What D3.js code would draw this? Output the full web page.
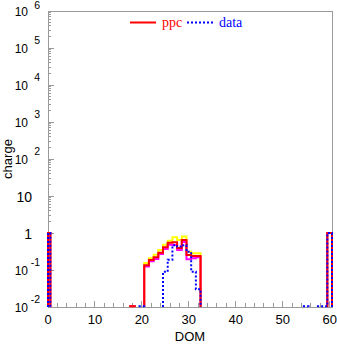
<!DOCTYPE html>
<html><head><meta charset="utf-8">
<script src="https://cdn.jsdelivr.net/npm/d3@7"></script>
<style>body{margin:0;background:#fff;} svg{display:block;}</style>
</head><body>
<script>
// DOM bins carrying any charge
const doms      = [0, 18, 20, 21, 22, 23, 24, 25, 26, 27, 28, 29, 30, 31, 32, 55, 58, 59, 60];
// ppc simulation (central), upper and lower band
const ppc       = [1, 0.0105, 0, 0.134, 0.186, 0.220, 0.294, 0.411, 0.547, 0.561, 0.393, 0.647, 0.254, 0.239, 0.239, 0, 0, 0, 1];
const ppcUpper  = [1, 0.0105, 0, 0.155, 0.207, 0.259, 0.347, 0.483, 0.619, 0.765, 0.647, 0.804, 0.312, 0.283, 0.283, 0, 0, 0, 1];
const ppcLower  = [1, 0.0105, 0, 0.124, 0.172, 0.198, 0.271, 0.370, 0.483, 0.474, 0.347, 0.571, 0.195, 0.207, 0.220, 0, 0, 0, 1];
// measured data
const dataQ     = [1, 0, 0.0105, 0, 0, 0, 0, 0.089, 0.19, 0.47, 0.43, 0.47, 0.31, 0.09, 0.030, 0.0105, 0.0105, 0.0105, 1];

const xTicks = [0, 10, 20, 30, 40, 50, 60];
const yTicks = [
  {v: 1e6, base: "10", exp: "6"},
  {v: 1e5, base: "10", exp: "5"},
  {v: 1e4, base: "10", exp: "4"},
  {v: 1e3, base: "10", exp: "3"},
  {v: 1e2, base: "10", exp: "2"},
  {v: 10,  base: "10", exp: ""},
  {v: 1,   base: "1",  exp: ""},
  {v: 1e-1, base: "10", exp: "-1"},
  {v: 1e-2, base: "10", exp: "-2"}
];

const W = 337, H = 344;
const L = 48, R = 332, T = 11, B = 307;
const axisColor = "#9a9a9a";

const svg = d3.select("body").append("svg").attr("width", W).attr("height", H);

const x = d3.scaleLinear().domain([0, 60.5]).range([L, R]).clamp(true);
const y = d3.scaleLog().domain([1e-2, 1e6]).range([B, T]).clamp(true);

function histPath(vals) {
  let d = "";
  let i = 0;
  while (i < doms.length) {
    if (!(vals[i] > 0)) { i++; continue; }
    let j = i;
    d += `M${x(doms[i] - 0.5)},${y(1e-2)}`;
    while (j < doms.length && vals[j] > 0 && (j === i || doms[j] === doms[j - 1] + 1)) {
      d += `L${x(doms[j] - 0.5)},${y(vals[j])}L${x(doms[j] + 0.5)},${y(vals[j])}`;
      j++;
    }
    d += `L${x(doms[j - 1] + 0.5)},${y(1e-2)}`;
    i = j;
  }
  return d;
}

svg.append("rect").attr("x", L).attr("y", T).attr("width", R - L).attr("height", B - T)
  .attr("fill", "none").attr("stroke", axisColor).attr("stroke-width", 1)
  .attr("shape-rendering", "crispEdges");

const gy = svg.append("g").attr("stroke", axisColor).attr("shape-rendering", "crispEdges");
for (let e = -2; e < 6; e++) {
  for (let k = 2; k <= 9; k++) {
    const v = k * Math.pow(10, e);
    gy.append("line").attr("x1", L).attr("x2", L + 3).attr("y1", y(v)).attr("y2", y(v));
  }
}
yTicks.forEach(t => {
  gy.append("line").attr("x1", L).attr("x2", L + 6).attr("y1", y(t.v)).attr("y2", y(t.v));
});

const gx = svg.append("g").attr("stroke", axisColor).attr("shape-rendering", "crispEdges");
d3.range(0, 61, 2).forEach(v => {
  const major = v % 10 === 0;
  gx.append("line").attr("x1", x(v)).attr("x2", x(v)).attr("y1", B).attr("y2", B - (major ? 6 : 4));
});

svg.append("path").attr("d", histPath(ppcUpper)).attr("fill", "none").attr("stroke", "#ffff00").attr("stroke-width", 2);
svg.append("path").attr("d", histPath(ppcLower)).attr("fill", "none").attr("stroke", "#ff00ff").attr("stroke-width", 2);
svg.append("path").attr("d", histPath(ppc)).attr("fill", "none").attr("stroke", "#ff0000").attr("stroke-width", 2);
svg.append("path").attr("d", histPath(dataQ)).attr("fill", "none").attr("stroke", "#0000ff").attr("stroke-width", 2)
  .attr("stroke-dasharray", "2,2");

const font = "'Liberation Sans', Arial, Helvetica, sans-serif";
yTicks.forEach(t => {
  const yy = y(t.v);
  if (t.exp) {
    svg.append("text").attr("x", 28).attr("y", yy + 5).attr("text-anchor", "end")
      .attr("font-family", font).attr("font-size", 12).text(t.base);
    svg.append("text").attr("x", 40).attr("y", Math.max(yy - 4, 9)).attr("text-anchor", "end")
      .attr("font-family", font).attr("font-size", 10.5).text(t.exp);
  } else {
    svg.append("text").attr("x", 32).attr("y", yy + 5.5).attr("text-anchor", "end")
      .attr("font-family", font).attr("font-size", 14).text(t.base);
  }
});

xTicks.forEach(v => {
  svg.append("text").attr("x", x(v)).attr("y", 324).attr("text-anchor", "middle")
    .attr("font-family", font).attr("font-size", 13).text(v);
});

svg.append("text").attr("x", (L + R) / 2).attr("y", 341).attr("text-anchor", "middle")
  .attr("font-family", font).attr("font-size", 13).text("DOM");
svg.append("text").attr("transform", `translate(12,${(T + B) / 2}) rotate(-90)`)
  .attr("text-anchor", "middle").attr("font-family", font).attr("font-size", 13).text("charge");

const serif = "'Liberation Serif', 'Times New Roman', serif";
svg.append("line").attr("x1", 130).attr("x2", 156).attr("y1", 22.5).attr("y2", 22.5)
  .attr("stroke", "#ff0000").attr("stroke-width", 2);
svg.append("text").attr("x", 162).attr("y", 26.5).attr("font-family", serif).attr("font-size", 14)
  .attr("fill", "#ff0000").text("ppc");
svg.append("line").attr("x1", 187).attr("x2", 215).attr("y1", 22.5).attr("y2", 22.5)
  .attr("stroke", "#0000ff").attr("stroke-width", 2).attr("stroke-dasharray", "2,2");
svg.append("text").attr("x", 219).attr("y", 26.5).attr("font-family", serif).attr("font-size", 14)
  .attr("fill", "#0000ff").text("data");
</script>
</body></html>
